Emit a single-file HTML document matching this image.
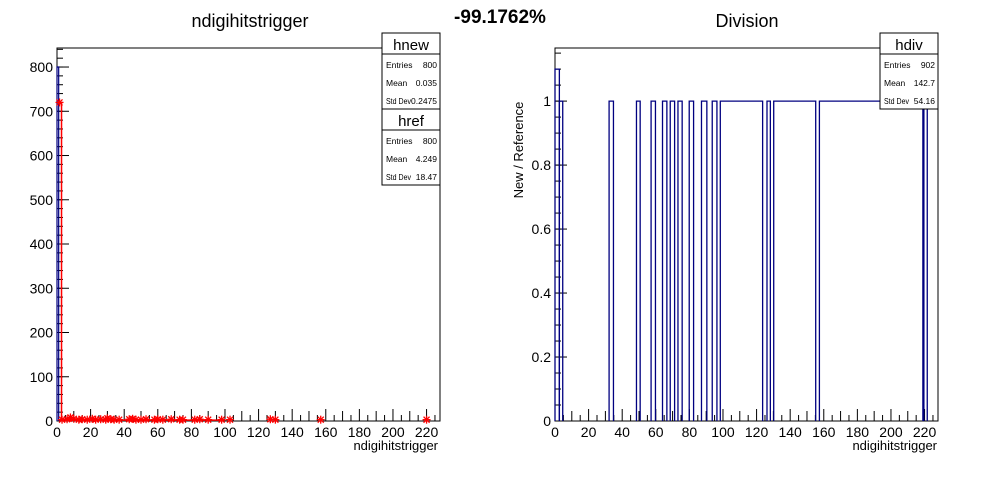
<!DOCTYPE html>
<html><head><meta charset="utf-8"><style>
body{margin:0;background:#fff;font-family:"Liberation Sans",sans-serif}
svg text{font-family:"Liberation Sans",sans-serif}
</style></head><body>
<svg id="c" width="996" height="472" xmlns="http://www.w3.org/2000/svg">
<rect width="996" height="472" fill="#fff"/>
<text x="250" y="27" font-size="18" text-anchor="middle">ndigihitstrigger</text>
<text x="500" y="23" font-size="19" font-weight="bold" text-anchor="middle">-99.1762%</text>
<text x="747" y="27" font-size="18" text-anchor="middle">Division</text>
<text transform="translate(523,150) rotate(-90)" font-size="13" text-anchor="middle">New / Reference</text>
<text x="438" y="450" font-size="13" text-anchor="end">ndigihitstrigger</text>
<text x="937" y="450" font-size="13" text-anchor="end">ndigihitstrigger</text>
<g id="L"></g>
<g id="R"></g>
</svg>
<script>
const hnewBins=[[0,1,800]];
const hrefX=[1.5];
const hrefY=[720];
const lowX=[3,6,8,10,13,15,18,21,23,26,29,30,32,34,37,43,45,47,50,53,58,60,63,68,73,75,82,85,90,98,103,127,130,157,220];
const lowY=[3,4,8,5,3,4,3,5,3,4,3,6,4,3,3,4,5,3,3,4,3,4,3,4,3,3,3,4,3,3,3,4,3,3,3];
const divSegs=[[0,2.6,1.1],[2.6,4.6,1],[32.2,34.8,1],[48.5,50.7,1],[57.2,59.8,1],[64,66.6,1],[68.6,71.2,1],[73.2,75.7,1],[79.9,82.5,1],[87.2,90.4,1],[93.6,96.4,1],[98.4,123.6,1],[126.2,128.2,1],[130.2,155.2,1],[157.4,219,1],[219.6,221.6,1]];
const leftYTicks=[0,100,200,300,400,500,600,700,800];
const rightYTicks=[0,0.2,0.4,0.6,0.8,1];
const xTickLabels=[0,20,40,60,80,100,120,140,160,180,200,220];
const NS="http://www.w3.org/2000/svg";
function mk(p,t,a){const e=document.createElementNS(NS,t);for(const k in a)e.setAttribute(k,a[k]);p.appendChild(e);return e;}
function axes(g,x0,x1,y0,y1,xmax,ymax,yt,ymin){
  const sx=v=>x0+(v/xmax)*(x1-x0), sy=v=>y0-(v/ymax)*(y0-y1);
  let f=mk(g,'rect',{x:x0,y:y1,width:x1-x0,height:y0-y1,fill:'none',stroke:'#000','stroke-width':1});
  
  for(let v=0;v<=xmax;v+=10){mk(g,'line',{x1:sx(v),x2:sx(v),y1:y0,y2:y0-(v%20==0?12:10),stroke:'#000'});}
  for(let v=5;v<=xmax;v+=10){mk(g,'line',{x1:sx(v),x2:sx(v),y1:y0,y2:y0-6,stroke:'#000'});}
  xTickLabels.forEach(v=>{const t=mk(g,'text',{x:sx(v),y:y0+16,'font-size':14,'text-anchor':'middle'});t.textContent=v;
    });
  yt.forEach(v=>{mk(g,'line',{x1:x0,x2:x0+12,y1:sy(v),y2:sy(v),stroke:'#000'});
    const t=mk(g,'text',{x:x0-4,y:sy(v)+5,'font-size':14,'text-anchor':'end'});t.textContent=v;
    });
  for(let v=0;v<=ymax;v+=ymin){mk(g,'line',{x1:x0,x2:x0+6,y1:sy(v),y2:sy(v),stroke:'#000'});}
  return [sx,sy];
}
const L=document.getElementById('L'),R=document.getElementById('R');
const [lx,ly]=axes(L,57,440,421,48,228,843,leftYTicks,20);
mk(L,'line',{x1:lx(1),x2:lx(100),y1:ly(2),y2:ly(2),stroke:'red','stroke-width':1.5});
hnewBins.forEach(b=>{const p=mk(L,'path',{d:`M${lx(b[0])},${ly(0)}V${ly(b[2])}H${lx(b[1])}V${ly(0)}`,fill:'none',stroke:'#000080','stroke-width':1.2});
  });
function star(x,y){const g=mk(L,'g',{stroke:'red','stroke-width':1.3});
  
  mk(g,'line',{x1:x-4,x2:x+4,y1:y,y2:y});mk(g,'line',{x1:x,x2:x,y1:y-4,y2:y+4});
  mk(g,'line',{x1:x-3,x2:x+3,y1:y-3,y2:y+3});mk(g,'line',{x1:x-3,x2:x+3,y1:y+3,y2:y-3});}
hrefX.forEach((v,i)=>{mk(L,'line',{x1:lx(v)+2,x2:lx(v)+2,y1:ly(0),y2:ly(hrefY[i]),stroke:'red','stroke-width':1.5});star(lx(v),ly(hrefY[i]));});
lowX.forEach((v,i)=>star(lx(v),ly(lowY[i])));
const [rx,ry]=axes(R,555,938,421,48,228,1.166,rightYTicks,0.05);
divSegs.forEach(s=>{const p=mk(R,'path',{d:`M${rx(s[0])},${ry(0)}V${ry(s[2])}H${rx(s[1])}V${ry(0)}`,fill:'none',stroke:'#000080','stroke-width':1.3});
  });
function stats(x,y,w,title,rows,name){const g=mk(document.getElementById('c'),'g',{});
  
  mk(g,'rect',{x:x,y:y,width:w,height:25+rows.length*17,fill:'#fff',stroke:'#000'});
  mk(g,'line',{x1:x,x2:x+w,y1:y+21,y2:y+21,stroke:'#000'});
  const t=mk(g,'text',{x:x+w/2,y:y+17,'font-size':15,'text-anchor':'middle'});t.textContent=title;
  rows.forEach((r,i)=>{const a=mk(g,'text',{x:x+4,y:y+35+i*18,'font-size':8.5});a.textContent=r[0];
    if(r[0]==='Std Dev'){a.setAttribute('textLength','25');a.setAttribute('lengthAdjust','spacingAndGlyphs');}
    const b=mk(g,'text',{x:x+w-3,y:y+35+i*18,'font-size':8.5,'text-anchor':'end'});b.textContent=r[1];});}
stats(382,33,58,'hnew',[['Entries','800'],['Mean','0.035'],['Std Dev','0.2475']],'hnew-stats-box');
stats(382,109,58,'href',[['Entries','800'],['Mean','4.249'],['Std Dev','18.47']],'href-stats-box');
stats(880,33,58,'hdiv',[['Entries','902'],['Mean','142.7'],['Std Dev','54.16']],'hdiv-stats-box');
</script>
</body></html>
